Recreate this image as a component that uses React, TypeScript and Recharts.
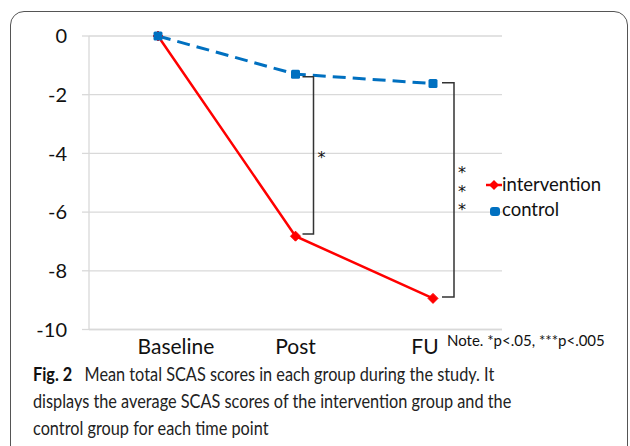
import React from 'react';
import { LineChart, Line, XAxis, YAxis, CartesianGrid, ReferenceLine } from 'recharts';

const categories = ['Baseline', 'Post', 'FU'];
const interventionValues = [0, -6.82, -8.94];
const controlValues = [0, -1.3, -1.62];
const yTicks = [0, -2, -4, -6, -8, -10];
const bracketCategories = ['Post', 'FU'];
const bracketTops = [-1.39, -1.59];
const bracketBottoms = [-6.75, -8.89];
const bracketStars = [1, 3];
const legendLabels = ['intervention', 'control'];
const noteText = 'Note. *p<.05, ***p<.005';

const data = categories.map((name, i) => ({
  name,
  intervention: interventionValues[i],
  control: controlValues[i],
}));

const RED = '#FF0000';
const BLUE = '#0070C0';
const GRID = '#D9D9D9';
const FONT = 'Lato, "Open Sans", sans-serif';

const labelShift: Record<string, number> = { Baseline: 18, Post: 0, FU: -8 };
const bracketArm: Record<string, [number, number]> = { Post: [7, 18], FU: [9, 21] };

const XTick = (props: any) => {
  const { x, y, payload } = props;
  const dx = labelShift[payload.value] ?? 0;
  return (
    <text x={x + dx} y={y + 24} textAnchor="middle" fill="#111" fontSize={21} fontFamily={FONT}>
      {payload.value}
    </text>
  );
};

const diamondDot = (props: any) => {
  const { cx, cy, index } = props;
  if (cx == null || cy == null) return <g key={`d${index}`} />;
  const s = 5;
  return (
    <path
      key={`d${index}`}
      d={`M${cx},${cy - s}L${cx + s},${cy}L${cx},${cy + s}L${cx - s},${cy}Z`}
      fill={RED}
      stroke={RED}
    />
  );
};

const squareDot = (props: any) => {
  const { cx, cy, index } = props;
  if (cx == null || cy == null) return <g key={`s${index}`} />;
  return <rect key={`s${index}`} x={cx - 4.5} y={cy - 4.5} width={9} height={9} rx={1.5} fill={BLUE} />;
};

const makeBracketShape = (cat: string, stars: number) => (props: any) => {
  const { x1, y1, y2 } = props;
  const [a, b] = bracketArm[cat];
  const top = Math.min(y1, y2);
  const bot = Math.max(y1, y2);
  const mid = (top + bot) / 2 - 1.5;
  const gap = 18.5;
  const first = mid - ((stars - 1) * gap) / 2;
  const sx = x1 + b + 8;
  return (
    <g>
      <path
        d={`M${x1 + a},${top}H${x1 + b}V${bot}H${x1 + a}`}
        fill="none"
        stroke="#333"
        strokeWidth={1.5}
      />
      {Array.from({ length: stars }, (_, i) => (
        <text
          key={i}
          x={sx}
          y={first + i * gap + 8.7}
          textAnchor="middle"
          fontSize={16}
          fontFamily='"DejaVu Sans", sans-serif'
          fill="#111"
        >
          *
        </text>
      ))}
    </g>
  );
};

export default function App() {
  return (
    <div
      style={{
        position: 'absolute',
        left: 0,
        top: 0,
        width: 630,
        height: 446,
        overflow: 'hidden',
        background: '#fff',
      }}
    >
      <div
        style={{
          position: 'absolute',
          left: 10,
          top: 11,
          width: 618,
          height: 520,
          boxSizing: 'border-box',
          border: '1.5px solid #555',
          borderRadius: 14,
        }}
      />
      <div style={{ position: 'absolute', left: 0, top: 0 }}>
        <LineChart width={630} height={370} data={data} margin={{ top: 36, right: 128, bottom: 0, left: 0 }}>
          <CartesianGrid horizontal vertical={false} stroke={GRID} strokeWidth={1.3} />
          <XAxis
            dataKey="name"
            type="category"
            axisLine={{ stroke: GRID, strokeWidth: 1.3 }}
            tickLine={false}
            tickSize={0}
            tickMargin={0}
            height={40.5}
            tick={<XTick />}
            interval={0}
            padding={{ left: 69, right: 69 }}
          />
          <YAxis
            type="number"
            domain={[-10, 0]}
            ticks={yTicks}
            width={89}
            tickSize={7}
            tickMargin={15}
            tickLine={{ stroke: GRID, strokeWidth: 1.3 }}
            axisLine={{ stroke: GRID, strokeWidth: 1.3 }}
            tick={{ fill: '#111', fontSize: 20, fontFamily: FONT }}
            interval={0}
          />
          <Line
            dataKey="intervention"
            stroke={RED}
            strokeWidth={2.5}
            dot={diamondDot}
            activeDot={false}
            isAnimationActive={false}
          />
          <Line
            dataKey="control"
            stroke={BLUE}
            strokeWidth={3}
            strokeDasharray="13 7"
            dot={squareDot}
            activeDot={false}
            isAnimationActive={false}
          />
          {bracketCategories.map((cat, i) => (
            <ReferenceLine
              key={cat}
              segment={[
                { x: cat, y: bracketTops[i] },
                { x: cat, y: bracketBottoms[i] },
              ]}
              shape={makeBracketShape(cat, bracketStars[i])}
            />
          ))}
        </LineChart>
      </div>

      {/* legend */}
      <svg style={{ position: 'absolute', left: 484, top: 176 }} width={24} height={46}>
        <line x1={2} y1={9} x2={18} y2={9} stroke={RED} strokeWidth={2.5} />
        <path d="M10,4L15,9L10,14L5,9Z" fill={RED} />
        <rect x={6} y={31} width={10} height={9} rx={3} fill={BLUE} />
      </svg>
      <div
        style={{
          position: 'absolute',
          left: 502,
          top: 172,
          fontFamily: FONT,
          fontSize: 18.5,
          lineHeight: '25px',
          color: '#111',
          whiteSpace: 'nowrap',
        }}
      >
        <div>{legendLabels[0]}</div>
        <div>{legendLabels[1]}</div>
      </div>

      <div
        style={{
          position: 'absolute',
          left: 447,
          top: 330,
          fontFamily: FONT,
          fontSize: 15,
          lineHeight: '20px',
          color: '#111',
          whiteSpace: 'nowrap',
        }}
      >
        {noteText}
      </div>

      <div
        style={{
          position: 'absolute',
          left: 33,
          top: 360,
          fontFamily: FONT,
          fontSize: 19.5,
          lineHeight: '27px',
          color: '#222',
          whiteSpace: 'nowrap',
          transform: 'scaleX(0.835)',
          transformOrigin: '0 0',
        }}
      >
        <b style={{ fontWeight: 700, color: '#111' }}>Fig. 2</b>
        {'\u2002 Mean total SCAS scores in each group during the study. It'}
        <br />
        displays the average SCAS scores of the intervention group and the
        <br />
        control group for each time point
      </div>
    </div>
  );
}
